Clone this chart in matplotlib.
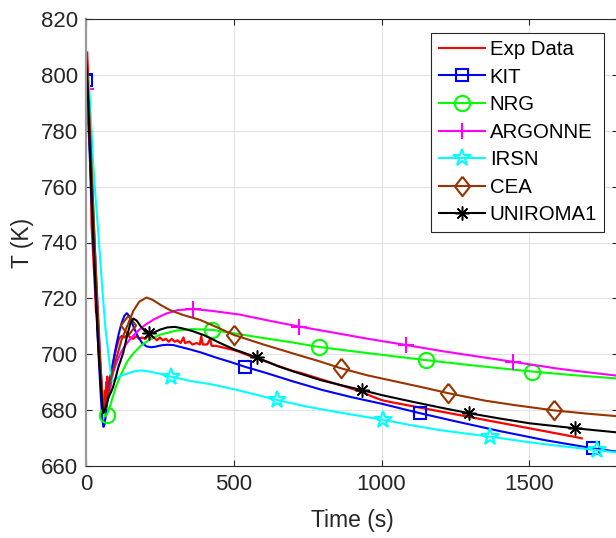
import numpy as np
import matplotlib
matplotlib.use("Agg")
import matplotlib.pyplot as plt
from matplotlib.lines import Line2D

plt.rcParams["font.family"] = ["Liberation Sans", "DejaVu Sans"]

# experimental temperature trace
exp_t = [4, 7, 10, 13, 16, 19, 23, 27, 31, 34,
         36, 38, 40, 42, 45, 48, 50, 52, 54, 56,
         58, 60, 62, 64, 66, 68, 70, 72, 74, 77,
         80, 84, 88, 92, 96, 100, 105, 110, 115, 120,
         130, 140, 150, 160, 170, 180, 190, 200, 210, 220,
         230, 240, 250, 260, 270, 280, 290, 300, 310, 320,
         330, 335, 350, 360, 375, 385, 390, 395, 410, 420,
         425, 440, 460, 480, 500, 520, 540, 560, 580, 600,
         620, 650, 680, 700, 730, 760, 790, 820, 850, 880,
         910, 940, 970, 1000, 1030, 1060, 1090, 1120, 1150, 1180,
         1210, 1240, 1270, 1300, 1330, 1360, 1390, 1420, 1450, 1480,
         1510, 1540, 1570, 1600, 1630, 1660, 1677]
exp_T = [808, 800, 790, 779, 763, 746, 738, 730, 722, 715,
         724, 709, 717, 704, 699, 694, 689, 686, 683, 681,
         679, 684, 680, 687, 681, 690, 683, 692, 685, 688,
         687, 690, 693, 696, 699, 701, 703, 705, 706, 706.5,
         706, 707, 706, 705.5, 706.5, 705.5, 706, 705.5, 706.5, 705.5,
         706, 705, 706, 705, 705.5, 704.5, 705.5, 704.5, 705, 704,
         706, 704, 704.5, 703.5, 704, 703.5, 706.5, 703.5, 703.5, 705.5,
         703, 703, 702.5, 702, 701.5, 700.8, 700, 699.2, 698.5, 697.7,
         697, 695.8, 694.7, 694, 693.2, 692.2, 691.2, 690.2, 689.3, 688.3,
         687.3, 686.2, 684.8, 683.6, 682.9, 682.3, 681.7, 681.1, 680.5, 679.9,
         679.3, 678.7, 678.1, 677.5, 676.9, 676.3, 675.7, 675.1, 674.5, 673.9,
         673.3, 672.7, 672.1, 671.5, 670.9, 670.3, 669.9]

kit_t = [0, 5, 10, 15, 20, 25, 30, 35, 40, 45,
         50, 55, 59, 63, 68, 75, 82, 92, 100, 110,
         120, 130, 138, 148, 160, 175, 190, 205, 220, 235,
         255, 275, 295, 320, 350, 390, 440, 490, 538, 600,
         700, 800, 900, 1000, 1130, 1250, 1400, 1550, 1717, 1800]
kit_T = [798, 790, 778, 765, 752, 740, 728, 716, 705, 695,
         685, 677, 674, 675, 679, 686, 692, 697.5, 702, 707,
         711, 713.8, 714.7, 713.5, 710, 706.5, 704, 702.8, 702.5, 702.7,
         703.2, 703.4, 703.3, 702.6, 701.8, 700.6, 698.8, 697.2, 695.5, 693.6,
         690.3, 687.2, 684.6, 682.3, 678.9, 676, 672.5, 669.3, 666.3, 665.1]
kit_marks = [0, 538, 1130, 1717]

nrg_t = [0, 10, 20, 30, 40, 50, 58, 64, 70, 80,
         90, 100, 115, 126, 140, 160, 185, 216, 250, 307,
         360, 428, 500, 600, 700, 788, 900, 1000, 1150, 1300,
         1400, 1510, 1650, 1800]
nrg_T = [807, 790, 765, 738, 713, 693, 681, 677.7, 678.3, 681,
         684.5, 688, 692, 694.5, 697.5, 700.3, 703, 705.3, 707, 708.5,
         709, 708.7, 707.5, 705.8, 704.2, 702.6, 701.1, 699.8, 697.9, 696.1,
         695, 693.8, 692.5, 691.3]
nrg_marks = [70, 428, 788, 1150, 1510]

arg_t = [0, 10, 20, 30, 40, 50, 58, 63, 70, 80,
         92, 105, 120, 135, 150, 175, 200, 230, 270, 310,
         361, 420, 520, 620, 722, 850, 950, 1083, 1200, 1300,
         1444, 1600, 1700, 1800]
arg_T = [795, 780, 760, 738, 716, 695, 682, 680, 682, 687,
         693.5, 697.5, 701, 703.5, 705.5, 708.3, 710.5, 712.5, 714.5, 715.8,
         716.2, 715.6, 714.2, 712, 709.9, 707.5, 705.6, 703.3, 701.2, 699.6,
         697.3, 694.8, 693.5, 692.3]
arg_marks = [0, 361, 722, 1083, 1444]

irsn_t = [0, 10, 19, 25, 33, 42, 50, 58, 66, 75,
          82, 88, 95, 105, 126, 160, 185, 215, 250, 287,
          350, 420, 500, 580, 647, 750, 850, 1006, 1100, 1200,
          1367, 1500, 1600, 1728, 1800]
irsn_T = [801, 797, 779, 767, 755, 743, 731, 719.5, 709, 701,
          694.5, 690.5, 690.6, 691.6, 692.6, 693.8, 694.2, 693.8, 693, 692,
          690.5, 689.3, 687.5, 685.4, 683.6, 681.2, 679.3, 676.5, 674.6, 672.8,
          670.5, 668.5, 667.2, 665.7, 664.8]
irsn_marks = [287, 647, 1006, 1367, 1728]

cea_t = [0, 10, 20, 30, 40, 50, 57, 62, 68, 78,
         90, 104, 120, 141, 160, 180, 205, 225, 250, 284,
         330, 386, 440, 501, 600, 700, 792, 862, 950, 1050,
         1150, 1224, 1350, 1450, 1584, 1700, 1800]
cea_T = [808, 790, 764, 738, 714, 694, 683, 680, 682, 688,
         694, 699, 705, 710.5, 715.5, 718.8, 720.3, 719.5, 717.8, 715.8,
         714, 712.3, 709.8, 706.9, 703.5, 700.3, 697.4, 695, 692.5, 690.2,
         687.9, 686.1, 683.4, 681.8, 679.9, 678.7, 677.8]
cea_marks = [141, 501, 862, 1224, 1584]

uni_t = [0, 5, 10, 15, 20, 25, 30, 35, 40, 45,
         50, 55, 58, 62, 68, 76, 85, 92, 100, 110,
         126, 140, 150, 160, 172, 185, 200, 214, 230, 250,
         275, 300, 325, 360, 400, 450, 500, 577, 650, 720,
         792, 860, 933, 1000, 1100, 1200, 1296, 1400, 1500, 1655, 1800]
uni_T = [808, 797, 782, 768, 754, 741, 729, 717, 706, 697,
         689, 682, 679, 679.5, 681.5, 684.5, 686.5, 688.4, 691.5, 695.5,
         700.5, 707, 711, 712.8, 712, 710, 708.2, 707.5, 707.8, 708.8,
         709.6, 709.8, 709.3, 708.3, 706.8, 704.2, 701.8, 698.9, 695.7, 693.2,
         690.8, 689, 687.2, 685.4, 683.1, 680.9, 678.9, 677, 675.3, 673.5, 672]
uni_marks = [214, 577, 933, 1296, 1655]

# asterisk marker (8 spokes) and a tall diamond
asterisk = (8, 2, 0)
diamond = [(0, 1), (0.78, 0), (0, -1), (-0.78, 0), (0, 1)]

series = [
    ("KIT", kit_t, kit_T, kit_marks, "#0000ff", "s", 8.6, 1.5),
    ("NRG", nrg_t, nrg_T, nrg_marks, "#00ff00", "o", 11, 1.5),
    ("ARGONNE", arg_t, arg_T, arg_marks, "#ff00ff", "+", 11, 1.5),
    ("IRSN", irsn_t, irsn_T, irsn_marks, "#00ffff", "*", 13, 1.5),
    ("CEA", cea_t, cea_T, cea_marks, "#993300", diamond, 14, 1.5),
    ("UNIROMA1", uni_t, uni_T, uni_marks, "#000000", asterisk, 10, 1.1),
]

fig = plt.figure(figsize=(6.16, 5.38), dpi=100)
ax = fig.add_axes([86 / 616, 72 / 538, 532 / 616, 447 / 538])

handles = []
ax.plot(exp_t, exp_T, color="#ff0000", lw=1.6)
handles.append(Line2D([], [], color="#ff0000", lw=1.5))

for name, t, T, marks, c, m, ms, mew in series:
    idx = [t.index(v) for v in marks]
    style = dict(color=c, lw=1.5, marker=m, markersize=ms, markevery=idx,
                 markerfacecolor="none", markeredgecolor=c, markeredgewidth=mew)
    ax.plot(t, T, **style)
    style.pop("markevery")
    handles.append(Line2D([], [], **style))

ax.set_xlim(0, 1800)
ax.set_ylim(660, 820)
ax.set_xticks([0, 500, 1000, 1500])
ax.set_yticks(np.arange(660, 821, 20))
ax.grid(True, color="#e2e2e2", lw=0.8)
ax.set_axisbelow(True)

ax.tick_params(direction="in", length=4, width=0.8, top=True, right=True,
               labelsize=16, colors="#262626", pad=6)
for side in ["top", "bottom", "right"]:
    ax.spines[side].set_color("#262626")
    ax.spines[side].set_linewidth(0.8)
ax.spines["left"].set_color("#9a9a9a")
ax.spines["left"].set_linewidth(1.6)

ax.set_xlabel("Time (s)", fontsize=16.5, color="#262626", labelpad=10)
ax.set_ylabel("T (K)", fontsize=16.5, color="#262626", labelpad=5)

labels = ["Exp Data"] + [s[0] for s in series]
leg = ax.legend(handles, labels, loc="upper right", bbox_to_anchor=(0.974, 0.969),
                borderaxespad=0, fontsize=14.7, handlelength=2.25, handletextpad=0.25,
                labelspacing=0.42, borderpad=0.35, fancybox=False, framealpha=1,
                edgecolor="#262626", numpoints=1)
leg.get_frame().set_linewidth(0.8)

fig.savefig("out.png", dpi=100)
